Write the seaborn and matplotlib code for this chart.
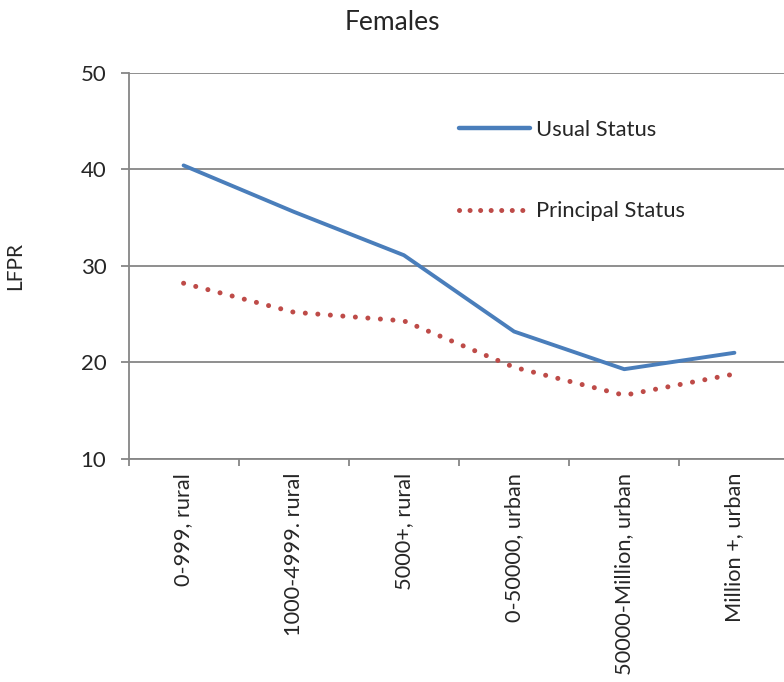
import matplotlib
matplotlib.use("Agg")
import matplotlib.pyplot as plt
import seaborn as sns
import pandas as pd
from matplotlib.lines import Line2D

# Labour force participation rate of females by settlement size
categories = ["0-999, rural", "1000-4999. rural", "5000+, rural",
              "0-50000, urban", "50000-Million, urban", "Million +, urban"]
usual_status = [40.4, 35.6, 31.1, 23.2, 19.3, 21.0]
principal_status = [28.2, 25.2, 24.3, 19.5, 16.6, 18.8]
series_names = ["Usual Status", "Principal Status"]

sns.set_style("white")
plt.rcParams["font.family"] = ["Lato", "DejaVu Sans"]

df = pd.DataFrame({
    "category": categories * 2,
    "LFPR": usual_status + principal_status,
    "series": [series_names[0]] * len(categories) + [series_names[1]] * len(categories),
})

W, H = 784, 682
fig = plt.figure(figsize=(W / 100, H / 100), dpi=100)
left, right, top, bottom = 128.5, 789.5, 72.7, 459.0
ax = fig.add_axes([left / W, 1 - bottom / H, (right - left) / W, (bottom - top) / H])

blue = "#4A7EBB"
red = "#BE4B48"
grey = "#868686"

sns.lineplot(data=df, x="category", y="LFPR", hue="series", style="series",
             palette={series_names[0]: blue, series_names[1]: red},
             dashes={series_names[0]: "", series_names[1]: (0.01, 2.5)},
             sort=False, ax=ax, legend=False)

lines = ax.get_lines()
lines[0].set_linewidth(2.8)
lines[0].set_solid_capstyle("round")
lines[0].set_solid_joinstyle("round")
lines[1].set_linewidth(3.6)
lines[1].set_dash_capstyle("round")

ax.set_xlim(-0.5, len(categories) - 0.5)
ax.set_ylim(10, 50)
ax.set_yticks([10, 20, 30, 40, 50])
ax.yaxis.grid(True, color=grey, linewidth=1.3)
ax.set_axisbelow(True)

for side in ["top", "right"]:
    ax.spines[side].set_visible(False)
for side in ["left", "bottom"]:
    ax.spines[side].set_color(grey)
    ax.spines[side].set_linewidth(1.3)

# category boundary ticks on the x axis
ax.set_xticks([i - 0.5 for i in range(len(categories) + 1)], minor=True)
ax.set_xticks(range(len(categories)))
ax.set_xticklabels(categories, rotation=90, va="top", ha="center", fontsize=15.7)
ax.tick_params(axis="x", which="major", length=0, pad=10)
ax.tick_params(axis="x", which="minor", length=5, color=grey, width=1.3, direction="out", bottom=True)
ax.tick_params(axis="y", length=6, color=grey, width=1.3, direction="out", left=True,
               labelsize=16, pad=10)
ax.set_xlabel("")
ax.set_ylabel("LFPR", fontsize=15)
ax.yaxis.set_label_coords(-(left - 25) / (right - left), 0.5)

# legend drawn from the plotted lines
handles = [
    Line2D([], [], color=blue, linewidth=3.2, solid_capstyle="round"),
    Line2D([], [], color=red, linewidth=3.6, linestyle=(0, (0.01, 2.1)), dash_capstyle="round"),
]
ax.legend(handles, series_names, loc="upper left", frameon=False, fontsize=15.8,
          bbox_to_anchor=(459 / W, 1 - 120 / H), bbox_transform=fig.transFigure,
          handlelength=3.25, handletextpad=0.27, labelspacing=2.8, borderpad=0,
          borderaxespad=0)

fig.text(392 / W, 1 - 23 / H, "Females", ha="center", va="center", fontsize=19)

fig.savefig("out.png", dpi=100, facecolor="white")
